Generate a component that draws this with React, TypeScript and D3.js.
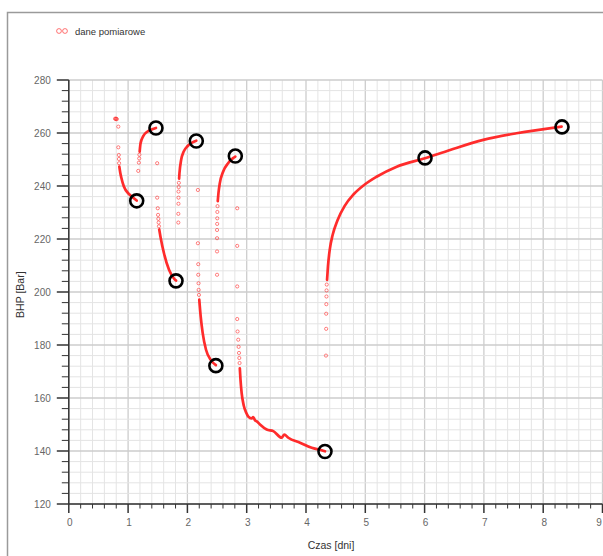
import { useRef, useEffect } from 'react'
import * as d3 from 'd3'

// measured points: sparse (single markers) and dense (marker trails read as a curve)
const drawdown1Sparse = [[0.78, 265.4], [0.79, 265.3], [0.8, 265.4], [0.81, 265.2], [0.835, 262.4], [0.835, 254.6], [0.843, 251.7], [0.845, 250.2], [0.848, 248.6]]
const drawdown1Dense = [[0.852, 247.3], [0.868, 245.0], [0.886, 243.1], [0.929, 239.8], [1.013, 237.0], [1.097, 235.4], [1.145, 234.5]]

const buildup1Sparse = [[1.171, 245.7], [1.182, 248.8], [1.187, 250.4], [1.19, 251.8]]
const buildup1Dense = [[1.195, 253.0], [1.21, 256.1], [1.255, 258.8], [1.323, 260.5], [1.407, 261.4], [1.47, 261.9]]

const drawdown2Sparse = [[1.49, 248.6], [1.49, 235.6], [1.5, 231.6], [1.505, 229.1], [1.51, 227.6], [1.515, 226.2], [1.52, 224.8]]
const drawdown2Dense = [[1.525, 223.6], [1.549, 220.5], [1.604, 214.7], [1.69, 208.4], [1.77, 205.2], [1.808, 204.3]]

const buildup2Sparse = [[1.847, 226.2], [1.847, 229.5], [1.849, 233.3], [1.85, 235.6], [1.85, 237.9], [1.853, 239.6], [1.856, 241.2]]
const buildup2Dense = [[1.86, 242.8], [1.866, 244.8], [1.894, 249.8], [1.938, 253.0], [2.005, 255.1], [2.079, 256.4], [2.15, 257.1]]

const drawdown3Sparse = [[2.177, 238.5], [2.177, 218.4], [2.183, 210.5], [2.183, 206.5], [2.188, 203.3], [2.19, 200.8], [2.195, 198.9]]
const drawdown3Dense = [[2.2, 197.1], [2.224, 190.8], [2.258, 184.5], [2.314, 178.2], [2.393, 174.4], [2.48, 172.4]]

const buildup3Sparse = [[2.5, 206.5], [2.5, 215.3], [2.5, 220.3], [2.5, 223.4], [2.502, 225.7], [2.503, 227.8], [2.505, 230.2], [2.508, 232.4]]
const buildup3Dense = [[2.512, 234.3], [2.525, 237.6], [2.546, 241.0], [2.602, 245.4], [2.686, 248.6], [2.77, 250.5], [2.808, 251.1]]

const drawdown4Sparse = [[2.84, 231.6], [2.84, 217.4], [2.84, 202.1], [2.84, 189.8], [2.846, 185.1], [2.857, 182.0], [2.864, 179.3], [2.87, 177.0], [2.875, 175.1], [2.88, 173.2]]
const drawdown4Dense = [
  [2.884, 171.2], [2.895, 167.0], [2.915, 161.8], [2.95, 157.2], [2.99, 154.5], [3.027, 153.0], [3.084, 152.3], [3.11, 152.8],
  [3.14, 151.6], [3.17, 151.2], [3.224, 150.0], [3.337, 148.1], [3.449, 147.5], [3.59, 145.0], [3.634, 146.2],
  [3.702, 145.0], [3.899, 143.1], [4.096, 141.2], [4.265, 140.3], [4.32, 139.9],
]

const buildup4Sparse = [[4.337, 176.0], [4.34, 186.1], [4.34, 191.8], [4.343, 195.4], [4.345, 198.3], [4.347, 200.6], [4.35, 202.8]]
const buildup4Dense = [
  [4.355, 204.6], [4.37, 209.6], [4.4, 215.9], [4.45, 221.6], [4.53, 227.0], [4.65, 232.4], [4.8, 236.8], [4.98, 240.4],
  [5.19, 243.5], [5.53, 247.3], [6.007, 250.5], [6.43, 253.6], [6.99, 257.4], [7.55, 259.9], [8.31, 262.4],
]

// black circled points
const keyPoints = [[1.145, 234.4], [1.47, 261.9], [1.808, 204.2], [2.15, 257.0], [2.48, 172.2], [2.808, 251.3], [4.32, 139.8], [6.007, 250.6], [8.317, 262.3]]

const xTicks = [0, 1, 2, 3, 4, 5, 6, 7, 8, 9]
const yTicks = [120, 140, 160, 180, 200, 220, 240, 260, 280]

const sparseSets = [drawdown1Sparse, buildup1Sparse, drawdown2Sparse, buildup2Sparse, drawdown3Sparse, buildup3Sparse, drawdown4Sparse, buildup4Sparse]
const denseSets = [drawdown1Dense, buildup1Dense, drawdown2Dense, buildup2Dense, drawdown3Dense, buildup3Dense, drawdown4Dense, buildup4Dense]

const width = 603
const height = 556
const margin = { top: 80, right: 0.5, bottom: 52, left: 68.8 }
const red = '#ff1a1a'
const font = 'Liberation Sans, Arial, sans-serif'

function drawChart(target: SVGSVGElement) {
  const svg = d3.select(target)
  svg.selectAll('*').remove()

  const x = d3.scaleLinear().domain([0, 9]).range([margin.left, width - margin.right])
  const y = d3.scaleLinear().domain([120, 280]).range([height - margin.bottom, margin.top])

  // frame
  svg.append('rect').attr('x', 7.5).attr('y', 12.5).attr('width', 620).attr('height', 600)
    .attr('fill', 'white').attr('stroke', '#9a9a9a').attr('stroke-width', 1.5)

  // grid
  const grid = svg.append('g')
  const xMinor = d3.range(0, 9.001, 0.2)
  const yMinor = d3.range(120, 280.001, 4)
  const isMajorX = (d: number) => Math.abs(d - Math.round(d)) < 1e-6
  grid.selectAll('.vx').data(xMinor).enter().append('line')
    .attr('x1', (d) => x(d)).attr('x2', (d) => x(d))
    .attr('y1', y(120)).attr('y2', y(280))
    .attr('stroke', (d) => (isMajorX(d) ? '#cdcdcd' : '#e4e4e4'))
    .attr('stroke-width', (d) => (isMajorX(d) ? 1.3 : 1))
  grid.selectAll('.hy').data(yMinor).enter().append('line')
    .attr('y1', (d) => y(d)).attr('y2', (d) => y(d))
    .attr('x1', x(0)).attr('x2', x(9))
    .attr('stroke', (d) => (d % 20 === 0 ? '#cdcdcd' : '#e4e4e4'))
    .attr('stroke-width', (d) => (d % 20 === 0 ? 1.3 : 1))

  // axes
  const axis = svg.append('g').attr('stroke', '#333')
  axis.append('line').attr('x1', x(0)).attr('x2', x(9)).attr('y1', y(120)).attr('y2', y(120)).attr('stroke-width', 1.5)
  axis.append('line').attr('x1', x(0)).attr('x2', x(0)).attr('y1', y(120)).attr('y2', y(280)).attr('stroke-width', 1.5)
  axis.selectAll('.tx').data(xMinor.slice(1)).enter().append('line')
    .attr('x1', (d) => x(d)).attr('x2', (d) => x(d))
    .attr('y1', y(120))
    .attr('y2', (d) => y(120) + (isMajorX(d) ? 9 : 4.5))
    .attr('stroke-width', (d) => (isMajorX(d) ? 1.5 : 1))
  axis.append('line').attr('x1', x(0)).attr('x2', x(0)).attr('y1', y(120)).attr('y2', y(120) + 9).attr('stroke-width', 1.5)
  axis.selectAll('.ty').data(yMinor).enter().append('line')
    .attr('y1', (d) => y(d)).attr('y2', (d) => y(d))
    .attr('x1', x(0))
    .attr('x2', (d) => x(0) - (d % 20 === 0 ? 12 : 7))
    .attr('stroke-width', (d) => (d % 20 === 0 ? 1.5 : 1))

  const labels = svg.append('g').attr('font-family', font).attr('font-size', 10).attr('fill', '#666')
  labels.selectAll('.xl').data(xTicks).enter().append('text')
    .attr('x', (d) => Math.min(x(d) + 1, width - 4)).attr('y', y(120) + 22)
    .attr('text-anchor', 'middle').text((d) => d)
  labels.selectAll('.yl').data(yTicks).enter().append('text')
    .attr('x', x(0) - 18).attr('y', (d) => y(d) + 3.5)
    .attr('text-anchor', 'end').text((d) => d)

  svg.append('text').attr('x', 331).attr('y', 549).attr('text-anchor', 'middle')
    .attr('font-family', font).attr('font-size', 10.5).attr('fill', '#333').text('Czas [dni]')
  svg.append('text').attr('transform', `translate(24, ${y(199)}) rotate(-90)`).attr('text-anchor', 'middle')
    .attr('font-family', font).attr('font-size', 10.5).attr('fill', '#333').text('BHP [Bar]')

  // legend
  const legend = svg.append('g')
  legend.selectAll('circle').data([59, 65]).enter().append('circle')
    .attr('cx', (d) => d).attr('cy', 31).attr('r', 2.4)
    .attr('fill', 'none').attr('stroke', red).attr('stroke-opacity', 0.6).attr('stroke-width', 1)
  legend.append('text').attr('x', 75).attr('y', 34.5).attr('font-family', font).attr('font-size', 9.5)
    .attr('fill', '#333').text('dane pomiarowe')

  // data
  const line = d3.line<number[]>().x((d) => x(d[0])).y((d) => y(d[1])).curve(d3.curveMonotoneX)
  const data = svg.append('g')
  denseSets.forEach((set) => {
    data.append('path').attr('d', line(set)).attr('fill', 'none').attr('stroke', red)
      .attr('stroke-width', 2.7).attr('stroke-linecap', 'round').attr('stroke-opacity', 0.92)
  })
  sparseSets.forEach((set) => {
    data.selectAll(null).data(set).enter().append('circle')
      .attr('cx', (d) => x(d[0])).attr('cy', (d) => y(d[1])).attr('r', 1.6)
      .attr('fill', 'none').attr('stroke', red).attr('stroke-opacity', 0.6).attr('stroke-width', 0.9)
  })

  svg.append('g').selectAll('circle').data(keyPoints).enter().append('circle')
    .attr('cx', (d) => x(d[0])).attr('cy', (d) => y(d[1])).attr('r', 6.5)
    .attr('fill', 'none').attr('stroke', '#000').attr('stroke-width', 2.6)
}

export default function App() {
  const targetSVG = useRef<SVGSVGElement>(null)

  useEffect(() => {
    if (targetSVG.current) drawChart(targetSVG.current)
  }, [])

  return (
    <div>
      <svg
        ref={targetSVG}
        width={width}
        height={height}
        style={{ position: 'absolute', left: 0, top: 0, background: 'white' }}
      />
    </div>
  )
}
